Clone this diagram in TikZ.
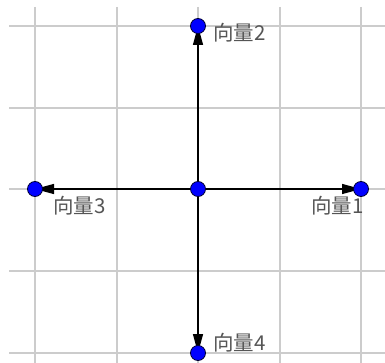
\documentclass[tikz,border=0pt]{standalone}
\usepackage{fontspec}
\newfontfamily\cjk{Noto Sans CJK SC}
\usetikzlibrary{arrows.meta}
\definecolor{gridgray}{RGB}{204,204,204}
\definecolor{labelgray}{RGB}{85,85,85}
\definecolor{ptblue}{RGB}{0,0,255}
\tikzset{
  gridline/.style={draw=gridgray, line width=1.2pt},
  vec/.style={draw=black, line width=1.3pt, -{Triangle[length=19pt,width=10pt]}},
  pt/.style={circle, fill=ptblue, draw=black!80!blue, line width=0.8pt, minimum size=15pt, inner sep=0pt},
  lbl/.style={text=labelgray, inner sep=0pt, font=\cjk\fontsize{20.5}{23}\selectfont}
}
\begin{document}
\begin{tikzpicture}[x=1pt,y=-1pt]
\useasboundingbox (0,0) rectangle (385,363);
% grid
\foreach \gx in {35,117,198,280,361} {\draw[gridline] (\gx,7) -- (\gx,363);}
\foreach \gy in {26,108,189,271,353} {\draw[gridline] (9,\gy) -- (385,\gy);}
% point coordinates
\coordinate (O) at (198,189);
\coordinate (A) at (361,189);
\coordinate (B) at (198,26);
\coordinate (C) at (35,189);
\coordinate (D) at (198,353);
% vectors
\draw[vec] (O) -- (A);
\draw[vec] (O) -- (B);
\draw[vec] (O) -- (C);
\draw[vec] (O) -- (D);
% dots
\node[pt] (o) at (O) {};
\node[pt] (a) at (A) {};
\node[pt] (b) at (B) {};
\node[pt] (c) at (C) {};
\node[pt] (d) at (D) {};
% labels
\node[lbl, anchor=west] (la) at (311,206) {向量1};
\node[lbl, anchor=west] (lb) at (213,33) {向量2};
\node[lbl, anchor=west] (lc) at (53,206) {向量3};
\node[lbl, anchor=west] (ld) at (213,343) {向量4};
\end{tikzpicture}
\end{document}
